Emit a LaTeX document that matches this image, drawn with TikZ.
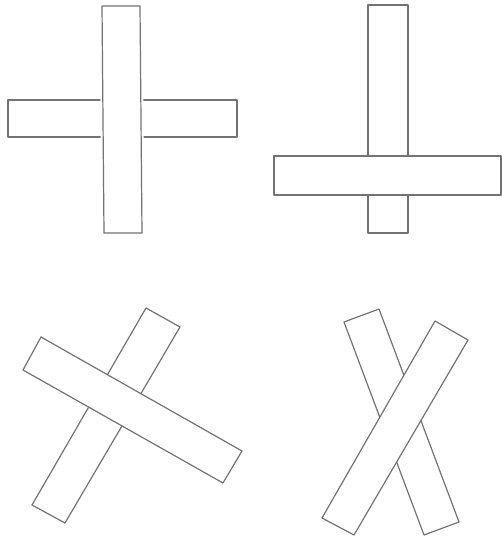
\documentclass[tikz,border=0pt]{standalone}
\begin{document}
\begin{tikzpicture}[x=1pt,y=-1pt,
  plank/.style={draw=black!55,fill=white,line width=1.2pt,line join=round},
  halo/.style={draw=white,line width=5pt}]
\useasboundingbox (0,0) rectangle (502,540);
% figure 1: horizontal behind, vertical in front
\draw[plank] (8,100) rectangle (237,137);
\draw[halo] (102,6) -- (104,233) -- (142,233) -- (140,6) -- cycle;
\draw[plank] (102,6) -- (104,233) -- (142,233) -- (140,6) -- cycle;
% figure 2: vertical behind, horizontal in front
\draw[plank] (368,5) rectangle (408,233);
\draw[plank] (274,156) rectangle (501,195);
% figure 3
\draw[plank] (146,308) -- (180,327) -- (65,523) -- (32,505) -- cycle;
\draw[plank] (41,337) -- (242,451) -- (223,483) -- (23,370) -- cycle;
% figure 4
\draw[plank] (344,322) -- (379,309) -- (459,522) -- (424,535) -- cycle;
\draw[plank] (435,321) -- (468,340) -- (354,535) -- (322,518) -- cycle;
\end{tikzpicture}
\end{document}
